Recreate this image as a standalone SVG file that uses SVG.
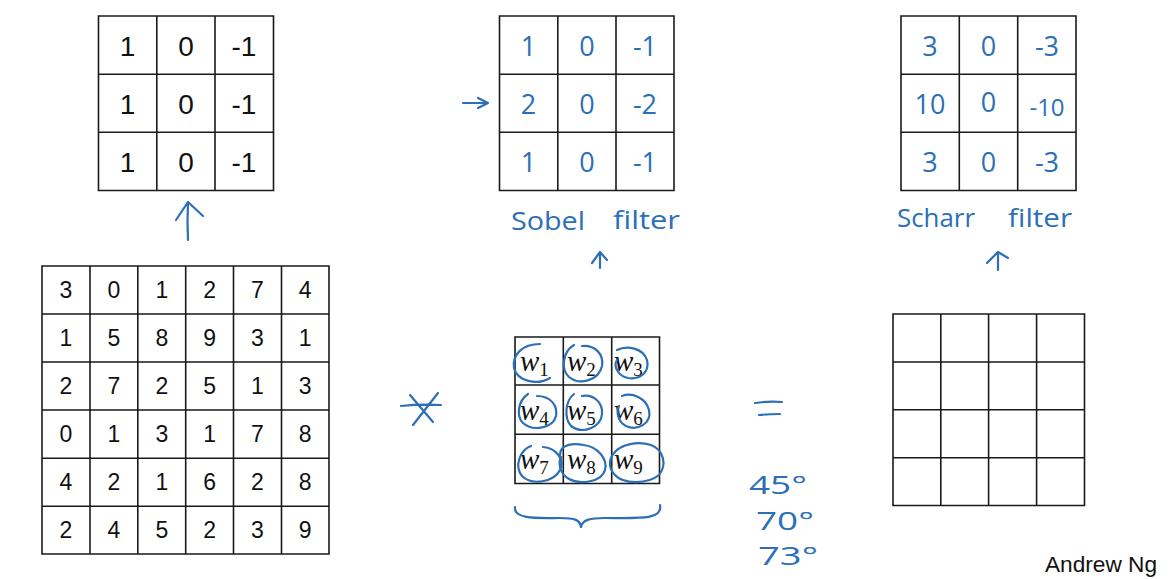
<svg xmlns="http://www.w3.org/2000/svg" width="1170" height="579" viewBox="0 0 1170 579">
<style>
.grid{fill:none;stroke:#1a1a1a;stroke-width:1.6}
.num{font-family:"Liberation Sans",Arial,sans-serif;fill:#111;text-anchor:middle;dominant-baseline:central}
.n26{font-size:28px}
.n21{font-size:23px}
.hw{font-family:"Open Sans","DejaVu Sans",sans-serif;fill:#2c6fb7;text-anchor:middle;dominant-baseline:central;font-size:27px}
.lbl{font-family:"Open Sans","DejaVu Sans",sans-serif;fill:#2c6fb7;font-size:26px}
.ink{fill:none;stroke:#2c6fb7;stroke-width:2.2;stroke-linecap:round;stroke-linejoin:round}
.w{font-family:"Liberation Serif","DejaVu Serif",serif;font-style:italic;font-size:29px;fill:#111}
.sub{font-family:"Liberation Serif","DejaVu Serif",serif;font-style:normal;font-size:19px;fill:#111}
</style>
<rect width="1170" height="579" fill="#fff"/>

<g id="vertical-filter">
<path class="grid" d="M98.5 16H273.5V190.5H98.5Z M156.8 16V190.5 M215 16V190.5 M98.5 74.3H273.5 M98.5 132.3H273.5"/>
<g class="num n26">
<text x="127.5" y="46">1</text><text x="186" y="46">0</text><text x="244" y="46">-1</text>
<text x="127.5" y="104">1</text><text x="186" y="104">0</text><text x="244" y="104">-1</text>
<text x="127.5" y="162">1</text><text x="186" y="162">0</text><text x="244" y="162">-1</text>
</g>
</g>

<g id="sobel-filter">
<path class="grid" d="M499.5 16H674V190.5H499.5Z M557.8 16V190.5 M616 16V190.5 M499.5 74.3H674 M499.5 132.3H674"/>
<g class="hw">
<text x="528.5" y="45">1</text><text x="587" y="45">0</text><text x="645" y="45">-1</text>
<text x="528.5" y="103">2</text><text x="587" y="103">0</text><text x="645" y="103">-2</text>
<text x="528.5" y="161">1</text><text x="587" y="161">0</text><text x="645" y="161">-1</text>
</g>
<text class="lbl" x="511" y="230" textLength="74" lengthAdjust="spacingAndGlyphs">Sobel</text>
<text class="lbl" x="613" y="229" textLength="67" lengthAdjust="spacingAndGlyphs">filter</text>
</g>

<g id="scharr-filter">
<path class="grid" d="M901 16H1076V190.5H901Z M959.3 16V190.5 M1017.7 16V190.5 M901 74.3H1076 M901 132.3H1076"/>
<g class="hw">
<text x="930" y="45">3</text><text x="988.5" y="45">0</text><text x="1047" y="45">-3</text>
<text x="930" y="103">10</text><text x="988.5" y="101">0</text><text x="1047" y="106" font-size="24">-10</text>
<text x="930" y="161">3</text><text x="988.5" y="161">0</text><text x="1047" y="161">-3</text>
</g>
<text class="lbl" x="897" y="227" textLength="78" lengthAdjust="spacingAndGlyphs">Scharr</text>
<text class="lbl" x="1008" y="227" textLength="64" lengthAdjust="spacingAndGlyphs">filter</text>
</g>

<g id="input-image">
<path class="grid" d="M42 266H329V554H42Z M90 266V554 M137.8 266V554 M185.7 266V554 M233.5 266V554 M281.5 266V554 M42 314H329 M42 362H329 M42 410H329 M42 458.2H329 M42 506.3H329"/>
<g class="num n21">
<text x="66" y="290">3</text><text x="114" y="290">0</text><text x="161.8" y="290">1</text><text x="209.6" y="290">2</text><text x="257.5" y="290">7</text><text x="305.2" y="290">4</text>
<text x="66" y="338">1</text><text x="114" y="338">5</text><text x="161.8" y="338">8</text><text x="209.6" y="338">9</text><text x="257.5" y="338">3</text><text x="305.2" y="338">1</text>
<text x="66" y="386">2</text><text x="114" y="386">7</text><text x="161.8" y="386">2</text><text x="209.6" y="386">5</text><text x="257.5" y="386">1</text><text x="305.2" y="386">3</text>
<text x="66" y="434">0</text><text x="114" y="434">1</text><text x="161.8" y="434">3</text><text x="209.6" y="434">1</text><text x="257.5" y="434">7</text><text x="305.2" y="434">8</text>
<text x="66" y="482">4</text><text x="114" y="482">2</text><text x="161.8" y="482">1</text><text x="209.6" y="482">6</text><text x="257.5" y="482">2</text><text x="305.2" y="482">8</text>
<text x="66" y="530">2</text><text x="114" y="530">4</text><text x="161.8" y="530">5</text><text x="209.6" y="530">2</text><text x="257.5" y="530">3</text><text x="305.2" y="530">9</text>
</g>
</g>

<g id="convolve-op">
<path class="ink" d="M401 406Q420 404 441 405 M410 395L433 422 M438 393L413 425"/>
</g>

<g id="weight-filter">
<path class="grid" d="M515 337H659.5V483.5H515Z M563.3 337V483.5 M611.7 337V483.5 M515 385H659.5 M515 434.3H659.5"/>
<g>
<text class="w" x="520" y="371">w<tspan class="sub" dy="5">1</tspan></text>
<text class="w" x="567" y="371">w<tspan class="sub" dy="5">2</tspan></text>
<text class="w" x="614" y="371">w<tspan class="sub" dy="5">3</tspan></text>
<text class="w" x="520" y="420">w<tspan class="sub" dy="5">4</tspan></text>
<text class="w" x="567" y="420">w<tspan class="sub" dy="5">5</tspan></text>
<text class="w" x="614" y="420">w<tspan class="sub" dy="5">6</tspan></text>
<text class="w" x="520" y="469">w<tspan class="sub" dy="5">7</tspan></text>
<text class="w" x="567" y="469">w<tspan class="sub" dy="5">8</tspan></text>
<text class="w" x="614" y="469">w<tspan class="sub" dy="5">9</tspan></text>
</g>
<g class="ink" stroke-width="1.8">
<path d="M540 344C522 344 512 355 514 368C517 381 537 386 550 378"/>
<path d="M574 345C562 352 561 370 569 377C580 386 599 380 602 366C604 354 595 345 582 346"/>
<path d="M617 350C627 345 643 348 647 360C650 372 640 380 628 378C618 376 613 366 617 360"/>
<path d="M528 394C518 401 516 416 523 423C533 432 553 428 556 416C558 405 550 396 537 396"/>
<path d="M574 394C565 401 564 418 571 426C583 435 601 427 602 414C603 402 593 394 582 396"/>
<path d="M622 396C632 392 646 398 649 410C652 424 637 431 626 426C618 422 616 412 619 406"/>
<path d="M531 446C520 450 514 466 522 476C532 486 554 482 560 470C565 459 556 448 543 447"/>
<path d="M560 455C560 444 573 443 584 445C597 447 608 458 605 470C602 482 580 485 569 479C560 474 558 464 561 457"/>
<path d="M614 453C621 444 638 441 651 445C664 450 667 465 659 475C648 484 624 485 615 475C608 468 609 459 614 453"/>
</g>
<path class="ink" d="M515 507C513 520 540 518 560 518C575 518 580 520 581 527C582 520 590 518 605 518C640 518 663 520 660 505"/>
</g>

<g id="equals-op">
<path class="ink" d="M755 403Q768 401 782 402 M759 415Q770 414 780 414"/>
</g>

<g id="angles">
<text class="lbl" x="749" y="494" textLength="58" lengthAdjust="spacingAndGlyphs" font-size="22">45°</text>
<text class="lbl" x="756" y="530" textLength="58" lengthAdjust="spacingAndGlyphs" font-size="22">70°</text>
<text class="lbl" x="758" y="565" textLength="60" lengthAdjust="spacingAndGlyphs" font-size="22">73°</text>
</g>

<g id="output-image">
<path class="grid" d="M893 314H1084.5V505.5H893Z M940.8 314V505.5 M988.6 314V505.5 M1036.6 314V505.5 M893 362H1084.5 M893 409.8H1084.5 M893 457.7H1084.5"/>
</g>

<g id="connectors" class="ink">
<path d="M188 240Q187 222 188 202 M176 220L188 202L203 216"/>
<path d="M600 268L600 252 M592 263L600 252L607 260"/>
<path d="M998 270L998 252 M987 263L998 252L1008 258"/>
<path d="M463 103L488 103 M478 98L488 103L478 108"/>
</g>

<text x="1045" y="572" font-family="Liberation Sans,Arial,sans-serif" font-size="22" textLength="112" lengthAdjust="spacingAndGlyphs" fill="#111">Andrew Ng</text>
</svg>
